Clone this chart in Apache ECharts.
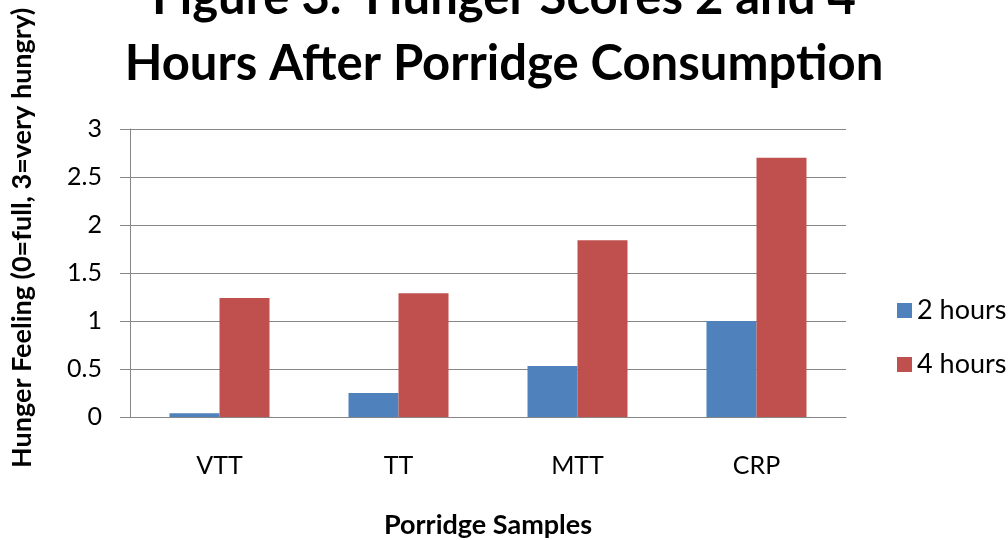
<!DOCTYPE html>
<html>
<head>
	<meta charset="UTF-8">
	<title>Hunger Scores</title>
	<script src="https://cdn.jsdelivr.net/npm/echarts@6/dist/echarts.min.js"></script>
</head>
<body style="margin:0;">
	<div id="main" style="width:1008px;height:540px;"></div>
	<script type="text/javascript">
		var samples = ['VTT', 'TT', 'MTT', 'CRP'];
		var twoHours = [0.04, 0.25, 0.53, 1.0];
		var fourHours = [1.24, 1.29, 1.84, 2.7];

		var font = 'Lato';
		var myChart = echarts.init(document.getElementById('main'));

		myChart.setOption({
			backgroundColor: '#fff',
			animation: false,
			title: {
				text: 'Figure 3.  Hunger Scores 2 and 4\nHours After Porridge Consumption',
				left: 'center',
				top: -40,
				textStyle: {
					fontFamily: font,
					fontWeight: 'bold',
					fontSize: 49,
					lineHeight: 66,
					color: '#000'
				}
			},
			legend: {
				orient: 'vertical',
				left: 892,
				top: 292,
				itemWidth: 15,
				itemHeight: 15,
				itemGap: 27,
				icon: 'rect',
				textStyle: {
					fontFamily: font,
					fontSize: 27,
					color: '#000'
				},
				data: ['2 hours', '4 hours']
			},
			grid: {
				left: 130,
				right: 162,
				top: 129,
				bottom: 123,
				outerBoundsMode: 'none'
			},
			xAxis: {
				type: 'category',
				data: samples,
				name: 'Porridge Samples',
				nameLocation: 'middle',
				nameGap: 95,
				nameTextStyle: {
					fontFamily: font,
					fontWeight: 'bold',
					fontSize: 27,
					color: '#000'
				},
				axisLine: { lineStyle: { color: '#868686', width: 1 } },
				axisTick: { length: 10, lineStyle: { color: '#868686' } },
				axisLabel: {
					margin: 36,
					fontFamily: font,
					fontSize: 25,
					color: '#000'
				}
			},
			yAxis: {
				type: 'value',
				min: 0,
				max: 3,
				interval: 0.5,
				name: 'Hunger Feeling (0=full, 3=very hungry)',
				nameLocation: 'middle',
				nameGap: 94,
				nameTextStyle: {
					fontFamily: font,
					fontWeight: 'bold',
					fontSize: 27,
					color: '#000',
					padding: [0, 0, 0, 70]
				},
				axisLine: { show: true, lineStyle: { color: '#868686', width: 1 } },
				axisTick: { show: true, length: 10, lineStyle: { color: '#868686' } },
				splitLine: { lineStyle: { color: '#868686', width: 1 } },
				axisLabel: {
					margin: 28,
					fontFamily: font,
					fontSize: 25,
					color: '#000'
				}
			},
			series: [{
				name: '2 hours',
				type: 'bar',
				data: twoHours,
				barWidth: 50,
				barGap: '0%',
				itemStyle: { color: '#4F81BD' }
			}, {
				name: '4 hours',
				type: 'bar',
				data: fourHours,
				barWidth: 50,
				itemStyle: { color: '#C0504D' }
			}]
		});
	</script>
</body>
</html>
